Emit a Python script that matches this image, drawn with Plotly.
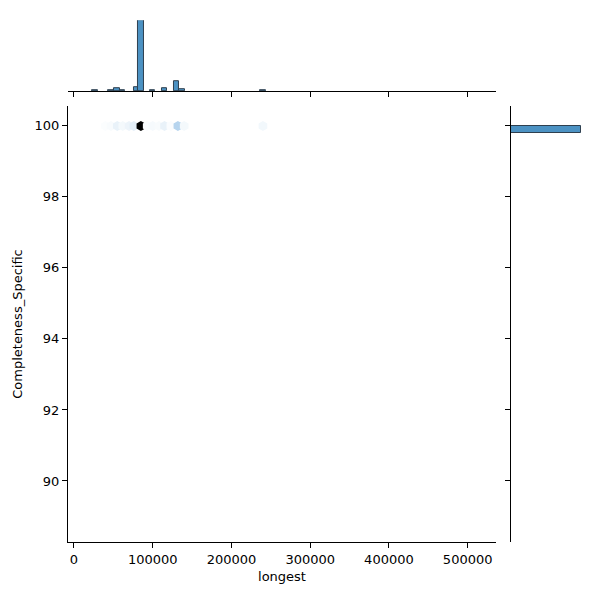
import plotly.graph_objects as go

bin_centers = [26700, 47000, 54600, 62000, 79000, 85000, 100000, 115000, 130000, 137000, 240000]
bin_counts = [3, 3, 8, 3, 12, 220, 3, 8, 29, 5, 3]
hex_x = [40000, 47000, 55000, 62000, 70000, 76000, 85000, 93000, 100000, 108000, 115000, 123000, 132000, 140000, 240000]
hex_c = [0.02, 0.04, 0.12, 0.06, 0.1, 0.15, 1.0, 0.03, 0.05, 0.04, 0.12, 0.03, 0.3, 0.06, 0.07]
y_count = 300

fig = go.Figure()
fig.add_trace(go.Bar(x=bin_centers, y=bin_counts, width=6800, marker=dict(color='#4c92c3', line=dict(color='#2e3f4f', width=1)),
                     xaxis='x2', yaxis='y2', showlegend=False))
fig.add_trace(go.Bar(y=[99.9], x=[y_count], width=0.2, orientation='h', marker=dict(color='#4c92c3', line=dict(color='#2e3f4f', width=1)),
                     xaxis='x3', yaxis='y3', showlegend=False))
fig.add_trace(go.Scatter(x=hex_x, y=[100]*len(hex_x), mode='markers',
                         marker=dict(symbol='hexagon', size=10, color=hex_c, cmin=0, cmax=1,
                                     colorscale=[[0, '#ffffff'], [0.15, '#e4eff8'], [0.3, '#b6d4ee'], [0.6, '#3d7fb8'], [1, '#000000']]),
                         showlegend=False))
tf = dict(family='DejaVu Sans', size=13, color='black')
ax = dict(showgrid=False, zeroline=False, showline=True, linecolor='black', ticks='outside', ticklen=5, tickcolor='black', tickfont=tf, automargin=False)
xr = [-7600, 536000]
yr = [88.28, 100.56]
noft = {k: v for k, v in ax.items() if k != 'tickfont'}
dx = 8 / 600
dy = 7 / 600
xm = [0.1133 - dx, 0.8267 - dx]
xh = [0.8517 - dx, 0.9683 - dx]
ym = [0.0983 + dy, 0.825 + dy]
yh = [0.85 + dy, 0.968 + dy]
fig.update_layout(
    width=600, height=600, margin=dict(l=0, r=0, t=0, b=0), plot_bgcolor='white', paper_bgcolor='white', bargap=0,
    xaxis=dict(domain=xm, range=xr, title=dict(text='longest', font=tf, standoff=6), tickvals=[0,100000,200000,300000,400000,500000], tickformat='d', anchor='y', **ax),
    yaxis=dict(domain=ym, range=yr, title=dict(text='Completeness_Specific', font=tf, standoff=8), tickvals=[90,92,94,96,98,100], anchor='x', **ax),
    xaxis2=dict(domain=xm, range=xr, anchor='y2', showticklabels=False, tickvals=[0,100000,200000,300000,400000,500000], **noft),
    yaxis2=dict(domain=yh, range=[0, 220], anchor='x2', visible=False),
    xaxis3=dict(domain=xh, range=[0, 300], anchor='y3', visible=False),
    yaxis3=dict(domain=ym, range=yr, anchor='x3', showticklabels=False, tickvals=[90,92,94,96,98,100], **noft),
)
fig.write_html('out.html')
